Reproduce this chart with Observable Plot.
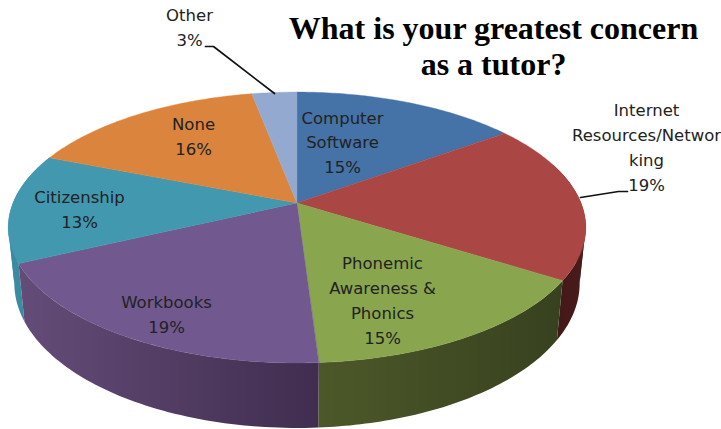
<!DOCTYPE html>
<html>
<head>
<meta charset="utf-8">
<style>html,body{margin:0;padding:0;background:#fff}svg{display:block}</style>
<script src="https://cdn.jsdelivr.net/npm/d3@7"></script>
<script src="https://cdn.jsdelivr.net/npm/@observablehq/plot@0.6"></script>
</head>
<body>
<script>
// Data, clockwise from twelve o'clock
const categories = ["Computer Software","Internet Resources/Networking","Phonemic Awareness & Phonics","Workbooks","Citizenship","None","Other"];
const shares = [15,19,15,19,13,16,3];
const labelTexts = ["Computer\nSoftware\n15%","Internet\nResources/Networ\nking\n19%","Phonemic\nAwareness &\nPhonics\n15%","Workbooks\n19%","Citizenship\n13%","None\n16%","Other\n3%"];
const titleText = "What is your greatest concern\nas a tutor?";

// Styling and layout, separate from the data
const faceColors = ["#4572a7","#aa4643","#89a54e","#71588f","#4198af","#db843d","#93a9cf"];
const wallLeft  = {1:"#3f1716",2:"#4d5829",3:"#644c78",4:"#3a8aa0"};
const wallRight = {1:"#4b1c1c",2:"#37411f",3:"#402d4f",4:"#3a8aa0"};
const labelX = [342,646,382,166,79,193,189];
const labelY = [140,145,298,312,207,134,25];
const leaderOther = [[205,46],[213,46],[274,93]];
const leaderInternet = [[627,191],[618,191],[580,197]];

// Perspective of the tilted disc
const top_ = {cx:297, cy:203, a:284, b:131};
const bottom_ = {cx:297, cy:257, a:278, b:140};
const k = 0.181;
const project = (p, theta) => {
  const X = Math.sin(theta), Y = Math.cos(theta), w = 1 + k * Y;
  return [p.cx + p.a * X / w, p.cy - p.b * Y / w];
};

const total = d3.sum(shares);
const cum = d3.cumsum(shares);
const rad = v => v / total * 2 * Math.PI;
const slices = categories.map((c,i) => ({i, name:c, start:rad(i ? cum[i-1] : 0), end:rad(cum[i])}));

const faceRows = slices.flatMap(s => {
  const n = Math.max(2, Math.ceil((s.end - s.start) / 0.015));
  return d3.range(n + 1).map(j => {
    const [x,y] = project(top_, s.start + (s.end - s.start) * j / n);
    return {id:s.i, x1:top_.cx, y1:top_.cy, x2:x, y2:y, fill:faceColors[s.i]};
  });
});

// Outer wall of the slices that face the viewer, back to front.
// Each wall is split where the rim turns at the silhouette, so no part folds over itself.
const turnRight = Math.acos(-k), turnLeft = 2 * Math.PI - turnRight;
const wallSegments = [
  {id:1, from:rad(20), to:turnRight},
  {id:1, from:turnRight - 0.01, to:slices[1].end},
  {id:4, from:turnLeft - 0.01, to:slices[4].end},
  {id:4, from:slices[4].start, to:turnLeft},
  {id:2, from:slices[2].start, to:slices[2].end},
  {id:3, from:slices[3].start, to:slices[3].end}
];
const wallRowsOf = seg => {
  const n = 60;
  return d3.range(n + 1).map(j => {
    const t = seg.from + (seg.to - seg.from) * j / n;
    const [x1,y1] = project(top_, t), [x2,y2] = project(bottom_, t);
    return {x1, y1, x2, y2};
  });
};

const labels = labelTexts.map((text,i) => ({text, x:labelX[i], y:labelY[i]}));

const wallMarks = wallSegments.map(seg =>
  Plot.area(wallRowsOf(seg), {x1:"x1", y1:"y1", x2:"x2", y2:"y2", fill:`url(#wall${seg.id})`})
);

const chart = Plot.plot({
  width:721, height:429, margin:0,
  x:{domain:[0,721], range:[0,721], axis:null},
  y:{domain:[0,429], range:[0,429], axis:null},
  color:{type:"identity"},
  marks:[
    ...wallMarks,
    Plot.area(faceRows, {x1:"x1", y1:"y1", x2:"x2", y2:"y2", z:"id", fill:"fill", stroke:"fill", strokeWidth:0.4}),
    Plot.line(leaderOther, {x:d=>d[0], y:d=>d[1], stroke:"#111", strokeWidth:1.7}),
    Plot.line(leaderInternet, {x:d=>d[0], y:d=>d[1], stroke:"#111", strokeWidth:1.7}),
    Plot.text(labels, {x:"x", y:"y", text:"text", fill:"#222", fontFamily:"DejaVu Sans", fontSize:16.5, lineHeight:1.5, textAnchor:"middle", lineAnchor:"middle"}),
    Plot.text([titleText], {x:()=>493, y:()=>45, text:d=>d, fill:"#000", fontFamily:"Liberation Serif", fontWeight:"bold", fontSize:32, lineHeight:1.125, textAnchor:"middle", lineAnchor:"middle"})
  ]
});

// Horizontal shading for the walls
const ns = "http://www.w3.org/2000/svg";
const defs = document.createElementNS(ns, "defs");
[1,2,3,4].forEach(i => {
  const xs = wallSegments.filter(s => s.id === i).flatMap(wallRowsOf).flatMap(d => [d.x1, d.x2]);
  const g = document.createElementNS(ns, "linearGradient");
  g.setAttribute("id", `wall${i}`);
  g.setAttribute("gradientUnits", "userSpaceOnUse");
  g.setAttribute("x1", d3.min(xs)); g.setAttribute("x2", d3.max(xs));
  g.setAttribute("y1", 0); g.setAttribute("y2", 0);
  [[0,wallLeft[i]],[1,wallRight[i]]].forEach(([o,c]) => {
    const st = document.createElementNS(ns, "stop");
    st.setAttribute("offset", o); st.setAttribute("stop-color", c);
    g.append(st);
  });
  defs.append(g);
});
chart.prepend(defs);
document.body.append(chart);
</script>
</body>
</html>
